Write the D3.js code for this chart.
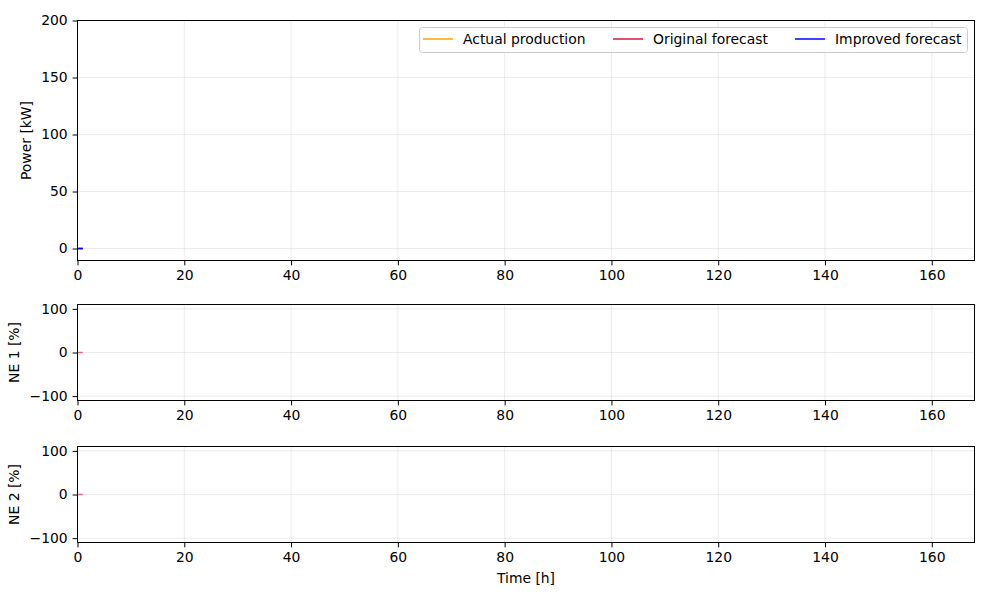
<!DOCTYPE html>
<html><head><meta charset="utf-8">
<script src="https://cdn.jsdelivr.net/npm/d3@7"></script>
<style>body{margin:0;background:#fff}svg{display:block;font-family:"DejaVu Sans",sans-serif}</style>
</head><body><svg id="c" width="1000" height="600"></svg>
<script>
// data
const timeH = [0, 1];
const actualProduction = [0, 0];
const originalForecast = [0, 0];
const improvedForecast = [0, 0];
const ne1 = [0, 0];
const ne2 = [0, 0];
const xTicks = [0, 20, 40, 60, 80, 100, 120, 140, 160];
const powerTicks = [0, 50, 100, 150, 200];
const neTicks = [-100, 0, 100];
const seriesNames = ["Actual production", "Original forecast", "Improved forecast"];
const seriesColors = ["orange", "crimson", "blue"];

const svg = d3.select("#c");
const L = 77.5, R = 974.5;
const x = d3.scaleLinear().domain([0, 168]).range([L, R]);
const fs = "13.9px";

function panel(top, bottom, domain, ticks, label, labelX) {
  const y = d3.scaleLinear().domain(domain).range([bottom, top]);
  const g = svg.append("g");
  g.selectAll(".gx").data(xTicks).join("line")
    .attr("x1", d => x(d)).attr("x2", d => x(d)).attr("y1", top).attr("y2", bottom)
    .attr("stroke", "#b0b0b0").attr("stroke-opacity", 0.3).attr("stroke-width", 0.8);
  g.selectAll(".gy").data(ticks).join("line")
    .attr("x1", L).attr("x2", R).attr("y1", d => y(d)).attr("y2", d => y(d))
    .attr("stroke", "#b0b0b0").attr("stroke-opacity", 0.3).attr("stroke-width", 0.8);
  const xa = g.append("g").attr("transform", `translate(0,${bottom})`)
    .call(d3.axisBottom(x).tickValues(xTicks).tickSize(4.9).tickPadding(4.9).tickFormat(d3.format("d")));
  const ya = g.append("g").attr("transform", `translate(${L},0)`)
    .call(d3.axisLeft(y).tickValues(ticks).tickSize(4.9).tickPadding(4.9).tickFormat(d => d < 0 ? "\u2212" + Math.abs(d) : d));
  [xa, ya].forEach(a => {
    a.select(".domain").remove();
    a.selectAll("text").attr("font-size", fs).attr("font-family", "DejaVu Sans").attr("fill", "#000");
    a.selectAll("line").attr("stroke", "#000").attr("stroke-width", 1);
  });
  g.append("text").attr("transform", `translate(${labelX},${(top + bottom) / 2}) rotate(-90)`)
    .attr("text-anchor", "middle").attr("font-size", fs).text(label);
  return {g, y, top, bottom};
}

function frame(p) {
  p.g.append("rect").attr("x", L).attr("y", p.top).attr("width", R - L).attr("height", p.bottom - p.top)
    .attr("fill", "none").attr("stroke", "#000").attr("stroke-width", 1);
}

const p1 = panel(20.5, 260.5, [-10.5, 200], powerTicks, "Power [kW]", 31);
const p2 = panel(304.5, 400.5, [-110, 110], neTicks, "NE 1 [%]", 19);
const p3 = panel(446.5, 542.5, [-110, 110], neTicks, "NE 2 [%]", 19);

const line1 = d3.line().x((d, i) => x(timeH[i])).y(d => p1.y(d));
[actualProduction, originalForecast, improvedForecast].forEach((s, k) => {
  p1.g.append("path").datum(s).attr("d", line1).attr("fill", "none")
    .attr("stroke", seriesColors[k]).attr("stroke-width", 1.5);
});
const line2 = d3.line().x((d, i) => x(timeH[i])).y(d => p2.y(d));
p2.g.append("path").datum(ne1).attr("d", line2).attr("fill", "none").attr("stroke", "crimson").attr("stroke-opacity", 0.6).attr("stroke-width", 1.5);
const line3 = d3.line().x((d, i) => x(timeH[i])).y(d => p3.y(d));
p3.g.append("path").datum(ne2).attr("d", line3).attr("fill", "none").attr("stroke", "crimson").attr("stroke-opacity", 0.6).attr("stroke-width", 1.5);

[p1, p2, p3].forEach(frame);

svg.append("text").attr("x", (L + R) / 2).attr("y", 583).attr("text-anchor", "middle").attr("font-size", fs).text("Time [h]");

const lg = svg.append("g");
lg.append("rect").attr("x", 419.5).attr("y", 27.5).attr("width", 548).attr("height", 25).attr("rx", 3)
  .attr("fill", "#fff").attr("fill-opacity", 0.8).attr("stroke", "#ccc").attr("stroke-width", 1);
const lx = [423, 613, 795];
seriesNames.forEach((n, k) => {
  lg.append("line").attr("x1", lx[k]).attr("x2", lx[k] + 30).attr("y1", 39).attr("y2", 39)
    .attr("stroke", seriesColors[k]).attr("stroke-width", 1.5);
  lg.append("text").attr("x", lx[k] + 40).attr("y", 44).attr("font-size", fs).text(n);
});
</script></body></html>
